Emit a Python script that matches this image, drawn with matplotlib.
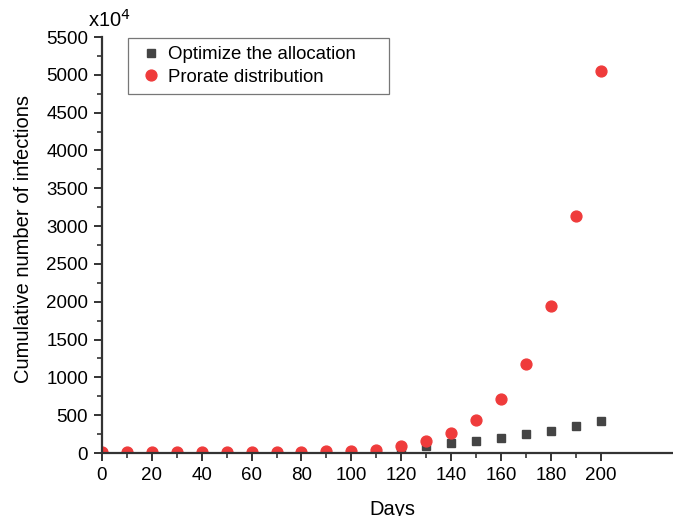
import numpy as np
import matplotlib
matplotlib.use("Agg")
import matplotlib.pyplot as plt
from matplotlib.ticker import MultipleLocator

plt.rcParams["font.family"] = ["Liberation Sans", "DejaVu Sans"]

days = [0, 10, 20, 30, 40, 50, 60, 70, 80, 90, 100,
        110, 120, 130, 140, 150, 160, 170, 180, 190, 200]
# cumulative infections, unit 10^4
optimize = [0, 0, 0, 0, 0, 0, 0, 0, 1, 2, 4,
            10, 45, 88, 128, 159, 194, 247, 295, 361, 423]
prorate = [12, 13, 14, 14, 15, 15, 16, 17, 19, 24, 33,
           45, 92, 159, 262, 432, 714, 1177, 1944, 3139, 5057]

AX_COLOR = "#333333"
FS = 13.5

fig = plt.figure(figsize=(6.73, 5.16), dpi=100)
ax = fig.add_axes([102 / 673, 63 / 516, 571 / 673, 416 / 516])

ax.plot(days, optimize, ls="none", marker="s", ms=6.0, color="#444444",
        mec="#444444", label="Optimize the allocation")
ax.plot(days, prorate, ls="none", marker="o", ms=7.8, color="#ef3b3b",
        mec="#ef3b3b", label="Prorate distribution")

ax.set_xlim(0, 229)
ax.set_ylim(0, 5500)
ax.set_xticks(np.arange(0, 201, 20))
ax.set_xticks(np.arange(10, 201, 20), minor=True)
ax.set_yticks(np.arange(0, 5501, 500))
ax.yaxis.set_minor_locator(MultipleLocator(250))

for side in ("top", "right"):
    ax.spines[side].set_visible(False)
for side in ("left", "bottom"):
    ax.spines[side].set_linewidth(1.6)
    ax.spines[side].set_color(AX_COLOR)

ax.tick_params(which="major", direction="out", length=6, width=1.4,
               color=AX_COLOR, labelsize=FS, pad=4)
ax.tick_params(which="minor", direction="out", length=3.5, width=1.2,
               color=AX_COLOR)

ax.set_xlabel("Days", fontsize=14.5, labelpad=12)
ax.xaxis.set_label_coords(0.508, -0.113)
ax.set_ylabel("Cumulative number of infections", fontsize=14.5)
ax.yaxis.set_label_coords(-0.12, 0.514)
ax.text(-0.025, 1.024, "x10$^4$", transform=ax.transAxes, fontsize=14.5,
        ha="left", va="baseline")

leg = ax.legend(loc="upper left", bbox_to_anchor=(0.045, 0.0, 0.458, 0.998),
                mode="expand", fontsize=13.4, frameon=True, fancybox=False,
                handletextpad=0.1, borderpad=0.45, borderaxespad=0,
                labelspacing=0.3, handlelength=1.6)
leg.get_frame().set_edgecolor("#555555")
leg.get_frame().set_linewidth(0.9)

fig.savefig("out.png", dpi=100)
